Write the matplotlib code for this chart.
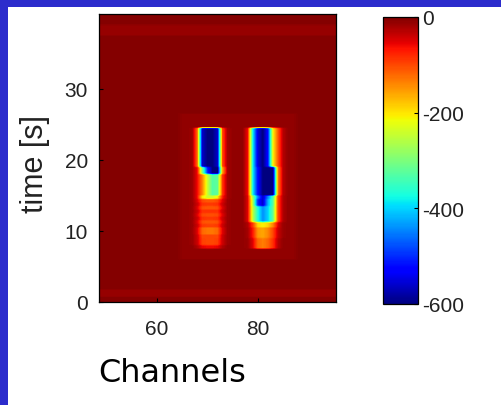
import numpy as np
import matplotlib.pyplot as plt
from matplotlib.patches import Rectangle

plt.rcParams['axes.unicode_minus'] = False

# channel axis and time axis of the section
channels = np.arange(49, 96)
dt = 0.25
t_max = 40.5
background = -4

# slightly lighter zone around the two events
halo_channels = (65, 87)
halo_time = (6.0, 26.5)
halo_value = -10

# faint horizontal bands near top and bottom
band_t0 = [0.75, 37.5]
band_t1 = [1.75, 39.0]
band_value = [-14, -12]

# first event (channels 67-74): (t_start, t_end, values per channel)
s1_cols = [67, 68, 69, 70, 71, 72, 73, 74]
s1_segments = [
    (19.0, 24.5, [-15, -120, -560, -600, -600, -560, -100, -20]),
    (18.0, 19.0, [-15, -60, -300, -500, -600, -600, -160, -20]),
    (15.0, 18.0, [-15, -60, -140, -240, -330, -320, -90, -20]),
    (14.5, 15.0, [-15, -60, -200, -240, -240, -210, -70, -20]),
    (14.0, 14.5, [-15, -50, -100, -110, -110, -100, -50, -15]),
    (13.5, 14.0, [-15, -40, -85, -90, -90, -85, -40, -15]),
    (13.0, 13.5, [-15, -50, -105, -110, -110, -105, -50, -15]),
    (12.5, 13.0, [-15, -40, -85, -85, -85, -85, -40, -15]),
    (12.0, 12.5, [-15, -50, -100, -105, -105, -100, -50, -15]),
    (11.5, 12.0, [-15, -40, -85, -90, -90, -85, -40, -15]),
    (11.0, 11.5, [-15, -50, -105, -110, -110, -105, -50, -15]),
    (10.5, 11.0, [-15, -40, -90, -95, -95, -90, -40, -15]),
    (9.5, 10.5, [-15, -50, -120, -130, -130, -120, -50, -15]),
    (9.0, 9.5, [-15, -40, -100, -100, -100, -100, -40, -15]),
    (8.0, 9.0, [-15, -40, -95, -100, -100, -95, -40, -15]),
    (7.5, 8.0, [-10, -25, -55, -60, -60, -55, -25, -10]),
]

# second event (channels 78-85)
s2_cols = [78, 79, 80, 81, 82, 83, 84, 85]
s2_segments = [
    (19.0, 24.5, [-60, -380, -550, -600, -520, -210, -110, -30]),
    (15.0, 19.0, [-60, -380, -520, -600, -600, -600, -140, -30]),
    (14.5, 15.0, [-50, -280, -450, -560, -450, -340, -100, -25]),
    (13.5, 14.5, [-50, -260, -500, -560, -420, -330, -100, -25]),
    (11.25, 13.5, [-50, -250, -370, -440, -400, -320, -100, -25]),
    (10.5, 11.25, [-25, -90, -190, -210, -190, -140, -50, -15]),
    (9.0, 10.5, [-20, -70, -150, -160, -140, -100, -40, -15]),
    (7.5, 9.0, [-15, -50, -120, -135, -120, -85, -30, -10]),
]

times = np.arange(0, t_max, dt) + dt / 2
Z = np.full((len(times), len(channels)), float(background))

rows = (times >= halo_time[0]) & (times < halo_time[1])
cols = (channels >= halo_channels[0]) & (channels <= halo_channels[1])
Z[np.ix_(rows, cols)] = halo_value
for t0, t1, v in zip(band_t0, band_t1, band_value):
    Z[(times >= t0) & (times < t1), :] = v

for cols_list, segs in [(s1_cols, s1_segments), (s2_cols, s2_segments)]:
    for t0, t1, vals in segs:
        r = (times >= t0) & (times < t1)
        for c, v in zip(cols_list, vals):
            Z[r, c - channels[0]] = v

fig = plt.figure(figsize=(5.02, 4.06), dpi=100)
fig.patch.set_facecolor('white')

ax = fig.add_axes([99 / 502, 1 - 303 / 406, 237 / 502, 288 / 406])
im = ax.imshow(Z, origin='lower', aspect='auto', cmap='jet', vmin=-600, vmax=0,
               extent=[channels[0] - 0.5, channels[-1] + 0.5, 0, t_max],
               interpolation='bilinear', interpolation_stage='data')
ax.set_xticks([60, 80])
ax.set_yticks([0, 10, 20, 30])
ax.tick_params(direction='in', length=3, labelsize=15, labelcolor='#222222')
ax.tick_params(axis='x', pad=12)
ax.tick_params(axis='y', pad=8)
for lab in ax.get_xticklabels() + ax.get_yticklabels():
    lab.set_family('Liberation Sans')
for s in ax.spines.values():
    s.set_linewidth(0.9)

cax = fig.add_axes([383 / 502, 1 - 305 / 406, 35 / 502, 287 / 406])
cb = fig.colorbar(im, cax=cax, ticks=[0, -200, -400, -600])
cb.set_ticklabels(['0', '-200', '-400', '-600'])
cb.ax.tick_params(direction='in', length=3, labelsize=15, labelcolor='#222222', pad=3)
for lab in cb.ax.get_yticklabels():
    lab.set_family('Liberation Sans')
cb.outline.set_linewidth(0.9)

fig.text(35 / 502, 1 - 164 / 406, 'time [s]', rotation=90, ha='center', va='center',
         fontsize=22, family='Liberation Sans', color='#222222')
fig.text(98 / 502, 1 - 382 / 406, 'Channels', ha='left', va='baseline',
         fontsize=23, family='DejaVu Sans', color='black')

blue = '#2c2ccc'
fig.patches.append(Rectangle((0, 1 - 8 / 406), 1, 8 / 406, transform=fig.transFigure,
                             facecolor=blue, edgecolor='none'))
fig.patches.append(Rectangle((0, 0), 8 / 502, 1, transform=fig.transFigure,
                             facecolor=blue, edgecolor='none'))

fig.savefig('out.png', dpi=100)
